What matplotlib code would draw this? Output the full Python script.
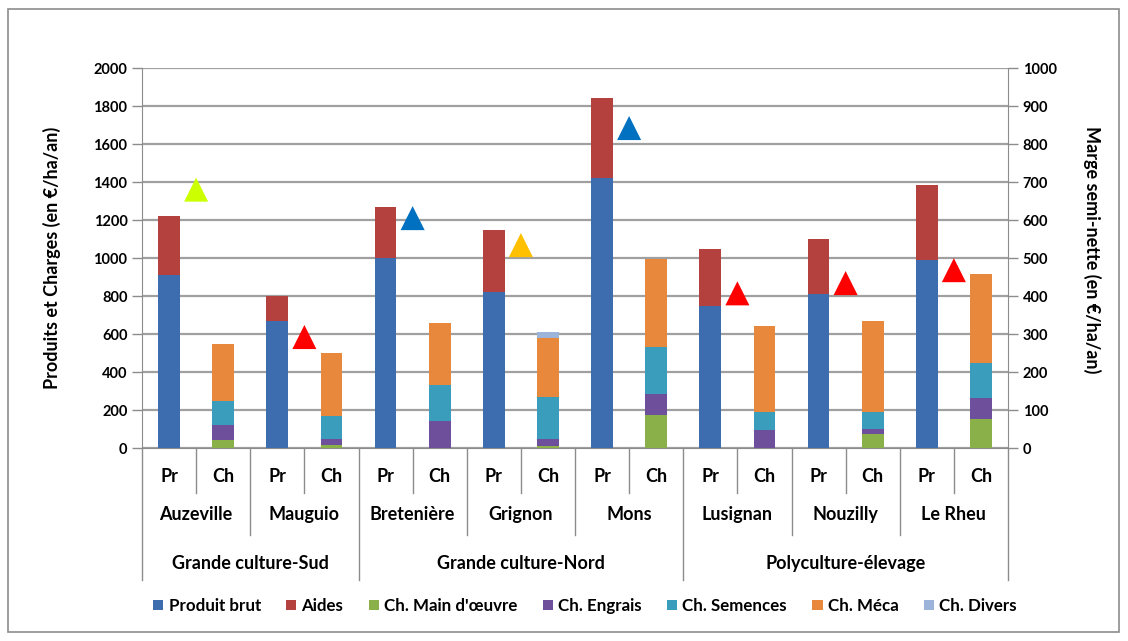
import numpy as np
import matplotlib.pyplot as plt
from matplotlib.lines import Line2D
from matplotlib.patches import Rectangle
import matplotlib.transforms as mtransforms

plt.rcParams['font.family'] = ['Lato', 'DejaVu Sans']
plt.rcParams['font.weight'] = 'bold'

# donnees
sites = ['Auzeville', 'Mauguio', 'Bretenière', 'Grignon', 'Mons', 'Lusignan', 'Nouzilly', 'Le Rheu']
groupes = ['Grande culture-Sud', 'Grande culture-Nord', 'Polyculture-élevage']
sites_par_groupe = [2, 3, 3]
sous_cat = ['Pr', 'Ch']

# produits (barres Pr)
produit_brut = [910, 670, 1000, 820, 1420, 750, 810, 990]
aides = [310, 130, 270, 330, 420, 300, 290, 395]

# charges (barres Ch)
ch_main_oeuvre = [40, 15, 0, 10, 175, 0, 75, 155]
ch_engrais = [80, 35, 140, 40, 110, 95, 25, 110]
ch_semences = [130, 120, 190, 220, 245, 95, 90, 180]
ch_meca = [295, 330, 330, 310, 465, 450, 480, 470]
ch_divers = [0, 0, 0, 30, 0, 0, 0, 0]

# marge semi-nette (axe de droite)
marge = [680, 292, 605, 534, 842, 407, 434, 468]
marge_couleurs = ['#CCFF00', '#FF0000', '#0070C0', '#FFC000', '#0070C0', '#FF0000', '#FF0000', '#FF0000']

couleurs = {
    'Produit brut': '#3E6DAF',
    'Aides': '#B5413E',
    "Ch. Main d'œuvre": '#8AB04A',
    'Ch. Engrais': '#6E4F9B',
    'Ch. Semences': '#3A9DBB',
    'Ch. Méca': '#E8883C',
    'Ch. Divers': '#9CB3DA',
}

fig = plt.figure(figsize=(11.28, 6.41), dpi=100)
ax = fig.add_axes([142/1128, 1-448/641, 866/1128, 380/641])

n = len(sites)
x_pr = np.arange(n) * 2
x_ch = np.arange(n) * 2 + 1
w = 0.4

ax.bar(x_pr, produit_brut, w, color=couleurs['Produit brut'], label='Produit brut', zorder=3)
ax.bar(x_pr, aides, w, bottom=produit_brut, color=couleurs['Aides'], label='Aides', zorder=3)

bas = np.zeros(n)
for nom, vals in [("Ch. Main d'œuvre", ch_main_oeuvre), ('Ch. Engrais', ch_engrais),
                  ('Ch. Semences', ch_semences), ('Ch. Méca', ch_meca), ('Ch. Divers', ch_divers)]:
    ax.bar(x_ch, vals, w, bottom=bas, color=couleurs[nom], label=nom, zorder=3)
    bas += np.array(vals)

ax.set_xlim(-0.5, 2*n - 0.5)
ax.set_ylim(0, 2000)
ax.set_yticks(np.arange(0, 2001, 200))
ax.grid(axis='y', color='#A0A0A0', linewidth=1.6, zorder=0)
ax.set_xticks([])
ax.spines['top'].set_visible(False)
ax.spines['left'].set_color('#8C8C8C')
ax.spines['right'].set_visible(False)
ax.spines['bottom'].set_color('#8C8C8C')
ax.tick_params(axis='y', colors='#8C8C8C', length=7, width=1, labelcolor='black', labelsize=10.5)

ax2 = ax.twinx()
ax2.set_ylim(0, 1000)
ax2.set_yticks(np.arange(0, 1001, 100))
ax2.scatter(x_pr + 0.5, marge, marker='^', s=300, c=marge_couleurs, zorder=5, linewidths=0)
ax2.spines['top'].set_visible(False)
ax2.spines['left'].set_visible(False)
ax2.spines['bottom'].set_visible(False)
ax2.spines['right'].set_color('#8C8C8C')
ax2.tick_params(axis='y', colors='#8C8C8C', length=7, width=1, labelcolor='black', labelsize=10.5)

# etiquettes de categories multi-niveaux
trans = mtransforms.blended_transform_factory(ax.transData, ax.transAxes)
lc = '#8C8C8C'
fs = 13
for i in range(n):
    ax.text(x_pr[i], -0.076, 'Pr', transform=trans, ha='center', va='center', fontsize=fs)
    ax.text(x_ch[i], -0.076, 'Ch', transform=trans, ha='center', va='center', fontsize=fs)
    ax.text(x_pr[i] + 0.5, -0.176, sites[i], transform=trans, ha='center', va='center', fontsize=fs)
    ax.add_line(Line2D([x_pr[i] + 0.5]*2, [0, -0.118], transform=trans, color=lc, lw=1, clip_on=False))

debut = 0
bords = [0]
for g, k in zip(groupes, sites_par_groupe):
    centre = (debut + debut + k) - 0.5
    ax.text(centre, -0.303, g, transform=trans, ha='center', va='center', fontsize=fs)
    debut += k
    bords.append(debut)
for i in range(1, n):
    if i not in bords:
        ax.add_line(Line2D([2*i - 0.5]*2, [0, -0.229], transform=trans, color=lc, lw=1, clip_on=False))
for b in bords:
    ax.add_line(Line2D([2*b - 0.5]*2, [0, -0.347], transform=trans, color=lc, lw=1, clip_on=False))

fig.text(52/1128, 1-258/641, 'Produits et Charges (en €/ha/an)', rotation=90, ha='center', va='center', fontsize=13)
fig.text(1092/1128, 1-250/641, 'Marge semi-nette (en €/ha/an)', rotation=270, ha='center', va='center', fontsize=13)

h, l = ax.get_legend_handles_labels()
fig.legend(h, l, loc='center', bbox_to_anchor=(585/1128, 1-606/641), ncol=7, frameon=False,
           handlelength=0.6, handleheight=0.6, handletextpad=0.3, columnspacing=1.5, fontsize=12.2)

fig.patches.append(Rectangle((8/1128, 9/641), 1111/1128, 623/641, transform=fig.transFigure,
                             fill=False, edgecolor='#8C8C8C', lw=1.2))

plt.savefig('out.png', dpi=100)
